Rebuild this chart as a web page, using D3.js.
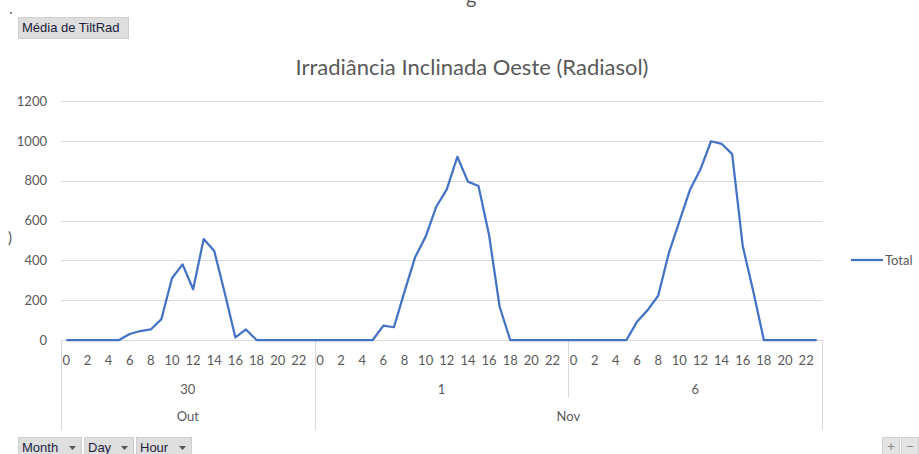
<!DOCTYPE html>
<html>
<head>
<meta charset="utf-8">
<script src="https://cdn.jsdelivr.net/npm/d3@7"></script>
<style>
  body { margin: 0; background: #fff; }
  svg text { font-family: Lato, "Open Sans", sans-serif; }
  .btn text { font-family: "Liberation Sans", Arial, sans-serif; }
</style>
</head>
<body>
<div id="chart"></div>
<script>
// chart data
var months = ['Out', 'Nov', 'Nov'];
var days = ['30', '1', '6'];
var hours = d3.range(24);
var yTicks = [0, 200, 400, 600, 800, 1000, 1200];

var day30 = [0, 0, 0, 0, 0, 0, 30, 45, 53, 105, 310, 380, 255, 507, 447, 235, 13, 53, 0, 0, 0, 0, 0, 0];
var day1 = [0, 0, 0, 0, 0, 0, 72, 64, 243, 415, 519, 669, 756, 920, 795, 773, 527, 167, 0, 0, 0, 0, 0, 0];
var day6 = [0, 0, 0, 0, 0, 0, 92, 150, 222, 435, 594, 753, 857, 998, 985, 933, 472, 243, 0, 0, 0, 0, 0, 0];

var w = 919,
  h = 454,
  plotLeft = 61,
  plotRight = 822,
  plotTop = 101,
  plotBottom = 340;

var svg = d3.select('#chart').append('svg')
  .attr('width', w)
  .attr('height', h);

// flatten into one series
var points = [];
[day30, day1, day6].forEach(function(vals, d) {
  vals.forEach(function(v, hr) {
    points.push({ idx: d * 24 + hours[hr], day: d, hour: hours[hr], value: v });
  });
});

var x = d3.scaleBand().domain(d3.range(points.length)).range([plotLeft, plotRight]);
var y = d3.scaleLinear().domain([0, 1200]).range([plotBottom, plotTop]);

var grey = '#595959';
var fs = '13px';

// gridlines
svg.append('g')
  .selectAll('line').data(yTicks).enter().append('line')
  .attr('x1', plotLeft).attr('x2', plotRight)
  .attr('y1', function(d) { return Math.round(y(d)) + 0.5; })
  .attr('y2', function(d) { return Math.round(y(d)) + 0.5; })
  .attr('stroke', '#d9d9d9').attr('stroke-width', 1);

// y axis labels
var yaxis = d3.axisLeft(y).tickValues(yTicks).tickFormat(d3.format('d')).tickSize(0).tickPadding(14);
var yg = svg.append('g').attr('transform', 'translate(' + plotLeft + ',0)').call(yaxis);
yg.select('.domain').remove();
yg.selectAll('text').attr('fill', grey).style('font-size', fs).style('font-family', 'Lato, sans-serif');

// hour labels (every other one)
svg.append('g').selectAll('text')
  .data(points.filter(function(p) { return p.hour % 2 === 0; }))
  .enter().append('text')
  .attr('x', function(p) { return x(p.idx) + x.bandwidth() / 2; })
  .attr('y', 365)
  .attr('text-anchor', 'middle')
  .attr('fill', grey)
  .style('font-size', fs)
  .text(function(p) { return p.hour; });

// day labels
var dayW = x.bandwidth() * 24;
svg.append('g').selectAll('text').data(days).enter().append('text')
  .attr('x', function(d, i) { return plotLeft + dayW * i + dayW / 2; })
  .attr('y', 394)
  .attr('text-anchor', 'middle')
  .attr('fill', grey)
  .style('font-size', fs)
  .text(function(d) { return d; });

// month labels, grouped
var monthGroups = [];
months.forEach(function(m, i) {
  var last = monthGroups[monthGroups.length - 1];
  if (last && last.name === m) last.end = i + 1;
  else monthGroups.push({ name: m, start: i, end: i + 1 });
});
svg.append('g').selectAll('text').data(monthGroups).enter().append('text')
  .attr('x', function(g) { return plotLeft + dayW * (g.start + g.end) / 2; })
  .attr('y', 421)
  .attr('text-anchor', 'middle')
  .attr('fill', grey)
  .style('font-size', fs)
  .text(function(g) { return g.name; });

// category separators
var seps = d3.range(days.length + 1).map(function(i) {
  var full = i === 0 || i === days.length || months[i] !== months[i - 1];
  return { x: plotLeft + dayW * i, full: full };
});
svg.append('g').selectAll('line').data(seps).enter().append('line')
  .attr('x1', function(s) { return Math.round(s.x) + 0.5; })
  .attr('x2', function(s) { return Math.round(s.x) + 0.5; })
  .attr('y1', plotBottom)
  .attr('y2', function(s) { return s.full ? 430 : 398; })
  .attr('stroke', '#d9d9d9');

// the line
var line = d3.line()
  .x(function(p) { return x(p.idx) + x.bandwidth() / 2; })
  .y(function(p) { return y(p.value); });

svg.append('path')
  .datum(points)
  .attr('d', line)
  .attr('fill', 'none')
  .attr('stroke', '#4472C4')
  .attr('stroke-width', 2.25)
  .attr('stroke-linejoin', 'round');

// title
svg.append('text')
  .attr('x', 472).attr('y', 75)
  .attr('text-anchor', 'middle')
  .attr('fill', grey)
  .style('font-size', '22px')
  .text('Irradiância Inclinada Oeste (Radiasol)');

// clipped bits from the sheet (only their edges show)
svg.append('text').attr('x', 466).attr('y', 4).attr('fill', grey).style('font-size', '20px').text('g');
svg.append('text').attr('x', 8).attr('y', 243).attr('fill', grey).style('font-size', '15px').text(')');
svg.append('rect').attr('x', 10).attr('y', 12).attr('width', 2).attr('height', 2).attr('fill', '#888');

// legend
svg.append('line').attr('x1', 851).attr('x2', 883).attr('y1', 260).attr('y2', 260)
  .attr('stroke', '#4472C4').attr('stroke-width', 2.25);
svg.append('text').attr('x', 885).attr('y', 264.5).attr('fill', grey).style('font-size', fs).text('Total');

// pivot field buttons
function button(bx, by, bw, bh, label, arrow) {
  var g = svg.append('g').attr('class', 'btn');
  g.append('rect').attr('x', bx + 0.5).attr('y', by + 0.5).attr('width', bw).attr('height', bh)
    .attr('fill', '#dedede').attr('stroke', '#cfcfcf');
  g.append('text').attr('x', bx + 4).attr('y', by + 15).attr('fill', '#1c1c3c')
    .style('font-size', '13px').text(label);
  if (arrow) {
    var ax = bx + bw - 12, ay = by + 9;
    g.append('path').attr('d', 'M' + ax + ',' + ay + 'h7l-3.5,4z').attr('fill', '#555');
  }
}
button(18, 17, 110, 21, 'Média de TiltRad', false);
button(18, 437, 63, 20, 'Month', true);
button(84, 437, 49, 20, 'Day', true);
button(136, 437, 55, 20, 'Hour', true);

// zoom +/- buttons
[{ x: 882, t: '+' }, { x: 901, t: '\u2212' }].forEach(function(b) {
  svg.append('rect').attr('x', b.x + 0.5).attr('y', 437.5).attr('width', 17).attr('height', 20)
    .attr('fill', '#e4e4e4').attr('stroke', '#d0d0d0');
  svg.append('text').attr('x', b.x + 9).attr('y', 451).attr('text-anchor', 'middle')
    .attr('fill', '#888').style('font-size', '14px').text(b.t);
});
</script>
</body>
</html>
